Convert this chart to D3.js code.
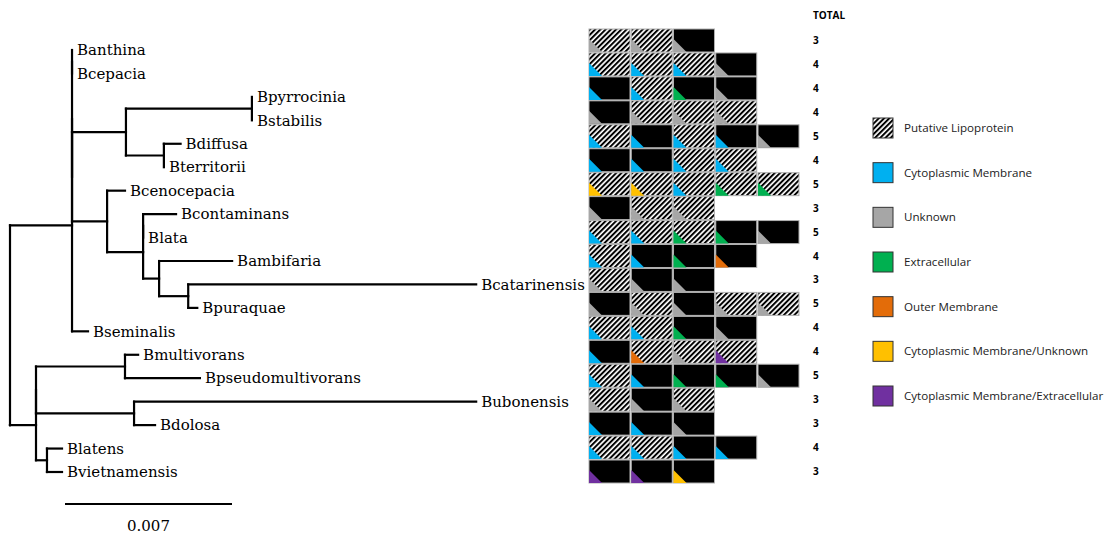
<!DOCTYPE html>
<html>
<head>
<meta charset="utf-8">
<script src="https://cdn.jsdelivr.net/npm/d3@7"></script>
<style>
  body { margin: 0; background: #fff; }
  .leaf { font-family: "DejaVu Serif", serif; font-size: 15px; }
  .tot { font-family: "Open Sans", sans-serif; font-size: 10px; font-weight: bold; }
  .leg { font-family: "Open Sans", sans-serif; font-size: 11.6px; fill: #222; }
</style>
</head>
<body>
<div class="chart"></div>
<script>
// tree (branch lengths, scale bar = 0.007)
const newick = "(((((Banthina:0,Bcepacia:0):0,(((Bpyrrocinia:0,Bstabilis:0):0.00528,(Bdiffusa:0.0007,Bterritorii:0):0.00159):0.00226," +
  "(Bcenocepacia:0.00075,((Bcontaminans:0.00138,Blata:0):0,(Bambifaria:0.00306,(Bcatarinensis:0.01207,Bpuraquae:0.00038):0.00122):0.00067):0.00151):0.00147):0):0,Bseminalis:0.00067):0.0026," +
  "((((Bmultivorans:0.00055,Bpseudomultivorans:0.00314):0.00373,(Bubonensis:0.01434,Bdolosa:0.00088):0.00411):0,(Blatens:0.00063,Bvietnamensis:0.00063):0.00046):0.00109);";

// H = putative lipoprotein (hatched), B = not (black)
const cellType = ["HHB", "HHHB", "BHBB", "BHHH", "HBHBB", "BBHH", "HHHHH", "BHH", "HHHBB", "HBBB",
                  "HBB", "BHBHH", "HHBB", "BHHH", "HBBBB", "HBH", "BBB", "HHBB", "BBB"];
// C cytoplasmic membrane, U unknown, E extracellular, O outer membrane, Y CM/unknown, P CM/extracellular
const cellLoc = ["UUU", "CCCU", "CCEU", "UUUU", "CCCCU", "CCCC", "YYCEE", "UUU", "CCEEU", "CCEO",
                 "UUU", "UUUUU", "CCEU", "COUP", "CCEEU", "UUU", "CCU", "CCCC", "PPY"];
const totals = [3, 4, 4, 4, 5, 4, 5, 3, 5, 4, 3, 5, 4, 4, 5, 3, 3, 4, 3];

const legendNames = ["Putative Lipoprotein", "Cytoplasmic Membrane", "Unknown", "Extracellular",
                     "Outer Membrane", "Cytoplasmic Membrane/Unknown", "Cytoplasmic Membrane/Extracellular"];
const legendKeys = ["H", "C", "U", "E", "O", "Y", "P"];
const locColors = ["#00b0f0", "#a6a6a6", "#00b050", "#e36c09", "#ffc000", "#7030a0"];

// tiny newick parser
function parseNewick(s) {
  var stack = [], node = {children: []}, root = node, tok = s.split(/\s*(;|\(|\)|,|:)\s*/);
  for (var i = 0; i < tok.length; i++) {
    var t = tok[i];
    if (t === "(") { var c = {children: []}; node.children.push(c); stack.push(node); node = c; }
    else if (t === ",") { var c2 = {children: []}; stack[stack.length - 1].children.push(c2); node = c2; }
    else if (t === ")") { node = stack.pop(); }
    else if (t === ":") { node.len = +tok[++i]; }
    else if (t && t !== ";") { node.name = t; }
  }
  return root.children[0];
}

var W = 1105, H = 535;
var svg = d3.select(".chart").append("svg").attr("width", W).attr("height", H);

var P = 3.7;
var defs = svg.append("defs");
defs.append("pattern")
    .attr("id", "hatch")
    .attr("patternUnits", "userSpaceOnUse")
    .attr("width", P).attr("height", P)
    .attr("patternTransform", "rotate(45)")
  .call(function(p) {
    p.append("rect").attr("width", P).attr("height", P).attr("fill", "#fff");
    p.append("rect").attr("width", 2).attr("height", P).attr("fill", "#000");
  });

// ---- tree ----
var root = d3.hierarchy(parseNewick(newick));
var x = d3.scaleLinear().domain([0, 0.007]).range([10, 177]);
var leaves = root.leaves();
var taxa = leaves.map(function(d) { return d.data.name; });
var yLeaf = d3.scaleLinear().domain([0, taxa.length - 1]).range([50, 472]);

root.eachBefore(function(d) {
  d.dist = d.parent ? d.parent.dist + (d.data.len || 0) : 0;
});
leaves.forEach(function(d, i) { d.yy = yLeaf(i); });
root.eachAfter(function(d) {
  if (d.children) d.yy = (d.children[0].yy + d.children[d.children.length - 1].yy) / 2;
});

var tree = svg.append("g").attr("stroke", "#000").attr("stroke-width", 2.2)
    .attr("stroke-linecap", "square").attr("fill", "none");

root.descendants().filter(function(d) { return d.children; }).forEach(function(d) {
  var first = d.children[0], last = d.children[d.children.length - 1];
  tree.append("line")
      .attr("x1", x(d.dist)).attr("x2", x(d.dist))
      .attr("y1", first.yy).attr("y2", last.yy);
  d.children.forEach(function(c) {
    if (c.data.len > 0)
      tree.append("line")
          .attr("x1", x(d.dist)).attr("x2", x(c.dist))
          .attr("y1", c.yy).attr("y2", c.yy);
  });
});

svg.append("g").selectAll("text")
    .data(leaves)
  .enter().append("text")
    .attr("class", "leaf")
    .attr("x", function(d) { return x(d.dist) + 5; })
    .attr("y", function(d) { return d.yy; })
    .attr("dy", "0.35em")
    .text(function(d) { return d.data.name; });

// scale bar
svg.append("line")
    .attr("x1", x(0) + 55).attr("x2", x(0.007) + 55)
    .attr("y1", 504).attr("y2", 504)
    .attr("stroke", "#000").attr("stroke-width", 2);
svg.append("text").attr("class", "leaf")
    .attr("x", (x(0) + x(0.007)) / 2 + 55).attr("y", 526).attr("dy", "0.35em")
    .attr("text-anchor", "middle").text("0.007");

// ---- localisation grid ----
var rowY = d3.scaleBand().domain(taxa).range([29, 483]).paddingInner(0.04);
var colX = d3.scaleBand().domain(d3.range(5)).range([589, 799]).paddingInner(0.03);
var locColor = d3.scaleOrdinal().domain(legendKeys.slice(1)).range(locColors);

var cells = [];
taxa.forEach(function(t, r) {
  for (var k = 0; k < cellType[r].length; k++)
    cells.push({taxon: t, col: k, type: cellType[r][k], loc: cellLoc[r][k]});
});

var cell = svg.append("g").selectAll("g")
    .data(cells)
  .enter().append("g")
    .attr("transform", function(d) { return "translate(" + colX(d.col) + "," + rowY(d.taxon) + ")"; });

cell.append("rect")
    .attr("width", colX.bandwidth())
    .attr("height", rowY.bandwidth())
    .attr("fill", function(d) { return d.type === "H" ? "url(#hatch)" : "#000"; })
    .attr("stroke", "#b0b0b0").attr("stroke-width", 1);

var tri = 13;
cell.append("path")
    .attr("d", function() {
      var h = rowY.bandwidth();
      return "M0," + (h - tri) + "L0," + h + "L" + tri + "," + h + "Z";
    })
    .attr("fill", function(d) { return locColor(d.loc); });

// totals
svg.append("text").attr("class", "tot").attr("x", 813).attr("y", 15).attr("dy", "0.35em").text("TOTAL");
svg.append("g").selectAll("text")
    .data(totals)
  .enter().append("text")
    .attr("class", "tot")
    .attr("x", 813)
    .attr("y", function(d, i) { return rowY(taxa[i]) + rowY.bandwidth() / 2; })
    .attr("dy", "0.35em")
    .text(function(d) { return d; });

// ---- legend ----
var legY = d3.scalePoint().domain(legendNames).range([128, 396]);
var leg = svg.append("g").selectAll("g")
    .data(legendNames)
  .enter().append("g")
    .attr("transform", function(d) { return "translate(873," + legY(d) + ")"; });

leg.append("rect")
    .attr("y", -10).attr("width", 20).attr("height", 20)
    .attr("fill", function(d, i) { return i === 0 ? "url(#hatch)" : locColor(legendKeys[i]); })
    .attr("stroke", "#333").attr("stroke-width", 1);

leg.append("text")
    .attr("class", "leg")
    .attr("x", 31).attr("dy", "0.35em")
    .text(function(d) { return d; });
</script>
</body>
</html>
